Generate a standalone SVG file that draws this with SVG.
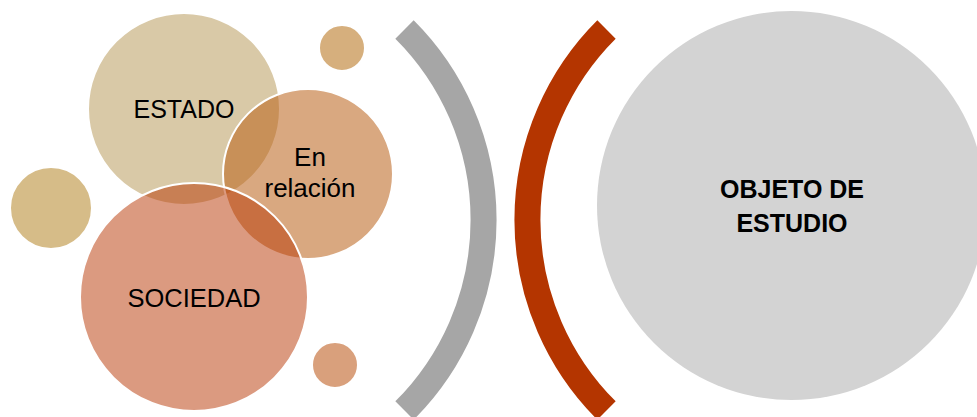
<svg xmlns="http://www.w3.org/2000/svg" width="977" height="417" viewBox="0 0 977 417">
<style>
.lbl{font-family:"Liberation Sans",Arial,sans-serif;font-size:25px;fill:#000;text-anchor:middle}
.lc{font-size:26px}
.bold{font-weight:bold;font-size:25px}
.arc{fill:none;stroke-width:26;stroke-linecap:butt}
.ws{stroke:#fff;stroke-width:2}
</style>
<rect width="977" height="417" fill="#fff"/>
<g id="dot-top"><circle cx="342" cy="48" r="23" fill="#D6AF7D" class="ws"/></g>
<g id="dot-left"><circle cx="51" cy="208" r="41" fill="#D6BC88" class="ws"/></g>
<g id="dot-bottom"><circle cx="335" cy="365" r="23" fill="#D9A07C" class="ws"/></g>
<g id="estado">
<circle cx="184" cy="109" r="96" fill="#D9C9A7" class="ws"/>
<text class="lbl" x="184" y="118">ESTADO</text>
</g>
<g id="en-relacion">
<circle cx="308" cy="174" r="85" fill="#BA6118" fill-opacity="0.55" class="ws"/>
<text class="lbl lc" x="310" y="166">En</text>
<text class="lbl lc" x="310" y="197">relación</text>
</g>
<g id="sociedad">
<circle cx="194" cy="297" r="114" fill="#B73501" fill-opacity="0.5" class="ws"/>
<text class="lbl" x="194" y="307" style="font-size:25.5px">SOCIEDAD</text>
</g>
<g id="connectors">
<path class="arc" stroke="#A6A6A6" d="M404.5 29.5 A269 269 0 0 1 404.5 410.5"/>
<path class="arc" stroke="#B43500" d="M606.5 29.5 A269 269 0 0 0 606.5 410.5"/>
</g>
<g id="objeto">
<circle cx="791.5" cy="205.5" r="194.5" fill="#D3D3D3"/>
<text class="lbl bold" x="792" y="198">OBJETO DE</text>
<text class="lbl bold" x="792" y="232">ESTUDIO</text>
</g>
</svg>
